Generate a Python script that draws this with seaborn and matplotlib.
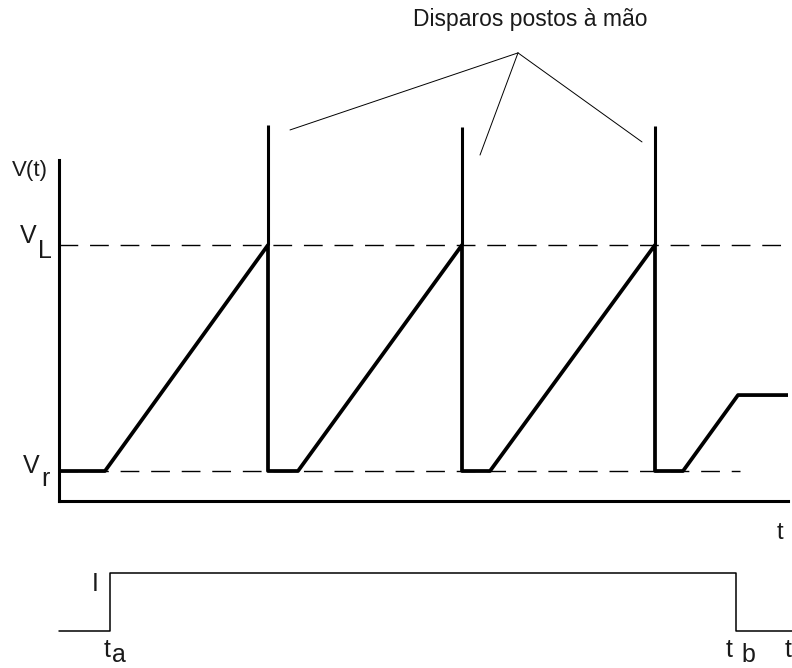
import matplotlib
matplotlib.use('Agg')
import matplotlib.pyplot as plt
import seaborn as sns

sns.set_style('white')
plt.rcParams['font.family'] = ['Liberation Sans', 'DejaVu Sans']

# waveform V(t): Vr = 0, VL = 1 (time in arbitrary units)
t_wave = [0, 4.6, 20.9, 20.9, 23.9, 40.3, 40.3, 43.1, 59.6, 59.6, 62.4, 67.9, 72.9]
v_wave = [0, 0, 1, 0, 0, 1, 0, 0, 1, 0, 0, 0.336, 0.336]
spike_t = [20.9, 40.3, 59.6]
spike_top = [1.531, 1.522, 1.527]
v_r, v_l = 0, 1
t_end_vr, t_end_vl = 68.1, 72.6

# current pulse I(t)
t_pulse = [0, 5.1, 5.1, 67.7, 67.7, 73.3]
i_pulse = [0, 0, 1, 1, 0, 0]

W, H = 792, 668
TXT = '#1a1a1a'
fig = plt.figure(figsize=(W / 100, H / 100), dpi=100)


def label(x, y, s, size, ha='center'):
    # text placed in figure pixels (baseline)
    fig.text(x / W, 1 - y / H, s, ha=ha, va='baseline', fontsize=size, color=TXT)


# -------------------------------
# top panel: V(t)
ax = fig.add_axes([59 / W, (H - 501) / H, (788 - 59) / W, 501 / H])
ax.patch.set_visible(False)
ax.set_xlim(0, 72.9)
ax.set_ylim(-0.1327, 2.084)
ax.axhline(v_l, xmax=t_end_vl / 72.9, color='black', lw=1, ls=(0, (13.5, 8.5)))
ax.axhline(v_r, xmax=t_end_vr / 72.9, color='black', lw=1, ls=(0, (13.5, 8.5)))
sns.lineplot(x=t_wave, y=v_wave, sort=False, estimator=None, ax=ax,
             color='black', lw=2.7)
ax.vlines(spike_t, v_l, spike_top, color='black', lw=2.2)

for s in ['top', 'right']:
    ax.spines[s].set_visible(False)
for s in ['left', 'bottom']:
    ax.spines[s].set_linewidth(2.2)
    ax.spines[s].set_color('black')
ax.spines['left'].set_bounds(-0.1327, 1.376)
ax.set_xticks([])
ax.set_yticks([])

# annotation
hub = (45.9, 1.85)
for end in [(23.1, 1.509), (42.1, 1.398), (58.3, 1.456)]:
    ax.plot([hub[0], end[0]], [hub[1], end[1]], color='black', lw=0.7)

# -------------------------------
# bottom panel: I(t)
ax2 = fig.add_axes([57 / W, 0, (W - 57) / W, (H - 520) / H])
ax2.patch.set_visible(False)
ax2.set_xlim(-0.2, 73.3)
ax2.set_ylim(-(H - 631) / 58, (631 - 520) / 58)
sns.lineplot(x=t_pulse, y=i_pulse, sort=False, estimator=None, ax=ax2,
             color='black', lw=1.1)
sns.despine(ax=ax2, left=True, bottom=True)
ax2.set_xticks([])
ax2.set_yticks([])

# -------------------------------
# labels
label(530, 26, 'Disparos postos à mão', 16.5)
label(30, 176, 'V(t)', 16)
label(28, 243, 'V', 18)
label(45, 258, 'L', 18)
label(31, 473, 'V', 18)
label(45, 486, 'r', 18)
label(780, 539, 't', 17)
label(95, 591, 'I', 18)
label(107, 657, 't', 18)
label(119, 662, 'a', 18)
label(729, 657, 't', 18)
label(748, 662, 'b', 18)
label(788, 657, 't', 18)

fig.savefig('out.png', dpi=100)
